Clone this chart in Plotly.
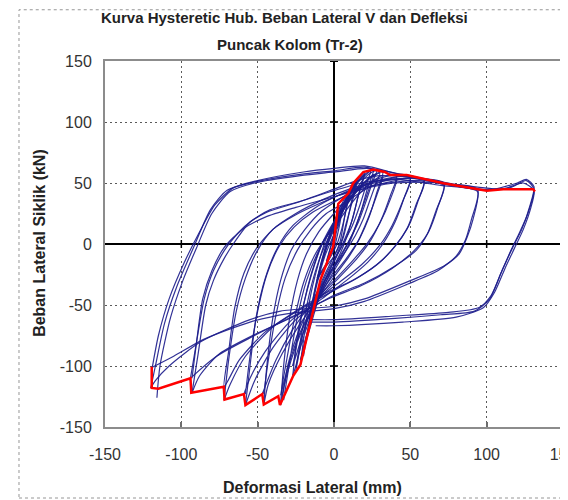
import plotly.graph_objects as go

# ---------------- data ----------------
# x: lateral deformation (mm), y: cyclic lateral load (kN)
c01_x = [0, 2, 4, 5, 4, 2, 0, -3, -5]
c01_y = [0, 12, 20, 25, 18, 6, -4, -10, -16]

c02_x = [-5, -3, 0, 3, 6, 8, 10, 8, 6, 4, 0, -5, -9, -11]
c02_y = [-16, -6, 8, 20, 30, 37, 42, 30, 15, 2, -10, -18, -25, -30]

c02b_x = [-5, -2, 1, 4, 7, 10, 8, 5, 2, -2, -7, -11]
c02b_y = [-14, -2, 12, 24, 32, 40, 28, 12, 0, -10, -20, -28]

c03_x = [-11, -8, -4, 0, 5, 10, 13, 15, 12, 9, 6, 2, -4, -10, -14, -16]
c03_y = [-30, -15, 2, 15, 30, 42, 48, 52, 38, 20, 5, -8, -22, -38, -50, -62]

c03b_x = [-11, -7, -3, 1, 6, 11, 15, 12, 8, 5, 0, -6, -12, -16]
c03b_y = [-28, -12, 4, 17, 32, 44, 50, 35, 17, 3, -10, -25, -42, -58]

c04_x = [-16, -13, -9, -5, 0, 6, 12, 17, 20, 17, 13, 9, 4, -3, -10, -16, -20, -22]
c04_y = [-62, -40, -18, 0, 18, 35, 47, 55, 59, 45, 25, 8, -8, -25, -45, -70, -88, -99]

c04b_x = [-16, -12, -8, -3, 3, 9, 15, 20, 16, 12, 7, 1, -6, -13, -19, -22]
c04b_y = [-58, -35, -14, 3, 20, 37, 50, 57, 40, 20, 4, -12, -30, -52, -80, -95]

c04c_x = [-20, -16, -11, -6, 0, 5, 10, 15, 20, 24, 21, 17, 12, 6, 0, -6, -12, -18, -21]
c04c_y = [-92, -62, -32, -10, 8, 24, 38, 50, 57, 60, 48, 32, 15, 0, -14, -30, -50, -75, -92]

c05_x = [-22, -19, -15, -10, -5, 0, 7, 14, 21, 26, 22, 18, 13, 8, 0, -8, -16, -22, -25, -27]
c05_y = [-99, -70, -40, -15, 5, 18, 35, 48, 57, 61, 46, 28, 10, -5, -22, -40, -62, -85, -100, -108]

c05b_x = [-27, -24, -19, -13, -7, 0, 8, 16, 22, 26, 22, 17, 12, 6, -2, -10, -18, -24, -27]
c05b_y = [-108, -75, -45, -18, 2, 15, 32, 45, 53, 57, 42, 24, 8, -7, -24, -42, -65, -88, -100]

c05c_x = [-25, -21, -16, -10, -4, 2, 8, 14, 20, 25, 28, 25, 21, 16, 10, 3, -5, -13, -20, -25]
c05c_y = [-104, -72, -40, -14, 4, 18, 32, 44, 54, 59, 60, 50, 35, 18, 3, -12, -28, -48, -72, -104]

c06_x = [-27, -24, -20, -15, -9, -3, 5, 13, 22, 28, 32, 28, 23, 17, 10, 0, -10, -20, -28, -33, -35]
c06_y = [-100, -80, -50, -25, -3, 12, 28, 42, 53, 58, 59, 42, 22, 5, -10, -27, -45, -68, -95, -118, -132]

c06b_x = [-35, -31, -26, -20, -13, -6, 2, 10, 18, 26, 32, 28, 22, 16, 8, -2, -12, -22, -30, -35]
c06b_y = [-124, -95, -62, -32, -10, 4, 17, 31, 43, 52, 56, 40, 20, 3, -12, -28, -47, -72, -100, -124]

c06c_x = [-33, -29, -24, -18, -11, -4, 3, 10, 17, 24, 30, 27, 23, 19, 14, 7, -2, -12, -22, -30, -34]
c06c_y = [-128, -96, -60, -30, -8, 8, 22, 35, 46, 54, 58, 48, 34, 20, 7, -7, -22, -42, -68, -98, -128]

c07_x = [-35, -33, -29, -24, -18, -10, 0, 10, 20, 30, 41, 37, 31, 24, 15, 3, -10, -22, -34, -43, -46]
c07_y = [-132, -100, -60, -30, -8, 10, 25, 38, 48, 54, 56, 40, 20, 3, -12, -28, -45, -65, -90, -115, -132]

c07b_x = [-46, -43, -38, -32, -24, -15, -5, 6, 17, 29, 41, 37, 30, 22, 12, 0, -14, -27, -38, -47]
c07b_y = [-123, -95, -58, -28, -5, 12, 25, 33, 42, 50, 54, 37, 17, 1, -14, -30, -48, -70, -95, -123]

c08_x = [-46, -44, -40, -35, -28, -19, -8, 5, 18, 32, 50, 46, 40, 32, 22, 8, -8, -25, -40, -52, -58]
c08_y = [-132, -100, -60, -30, -5, 12, 27, 38, 47, 53, 55, 38, 18, 0, -15, -30, -45, -62, -85, -112, -132]

c08b_x = [-58, -55, -50, -44, -36, -26, -14, 0, 14, 30, 50, 45, 38, 30, 18, 4, -12, -30, -45, -55, -59]
c08b_y = [-123, -92, -55, -25, -2, 14, 26, 35, 43, 49, 53, 35, 15, -1, -17, -31, -46, -65, -88, -110, -123]

c09_x = [-58, -55, -51, -45, -37, -27, -12, 3, 20, 40, 59, 55, 49, 41, 30, 15, 0, -20, -40, -58, -68, -72]
c09_y = [-132, -100, -60, -28, -3, 15, 30, 40, 48, 53, 53, 35, 15, 0, -15, -28, -38, -52, -68, -92, -115, -128]

c09b_x = [-72, -69, -65, -59, -51, -40, -25, -8, 10, 30, 59, 54, 48, 40, 28, 12, -5, -25, -45, -62, -72]
c09b_y = [-117, -88, -52, -24, -4, 12, 24, 34, 43, 49, 51, 33, 13, -2, -17, -30, -40, -55, -72, -95, -117]

c10_x = [-72, -69, -64, -58, -50, -40, -25, -8, 10, 30, 50, 72, 68, 62, 54, 40, 20, 0, -22, -50, -75, -88, -93]
c10_y = [-128, -95, -55, -28, -5, 12, 25, 36, 45, 52, 54, 50, 30, 10, -5, -18, -32, -42, -57, -73, -90, -108, -122]

c10b_x = [-93, -90, -86, -80, -72, -60, -45, -25, -5, 15, 40, 72, 67, 61, 52, 38, 18, -2, -25, -52, -77, -94]
c10b_y = [-110, -80, -45, -22, -3, 12, 22, 30, 37, 44, 50, 48, 28, 8, -6, -20, -34, -44, -58, -75, -92, -110]

c11_x = [-93, -89, -84, -79, -72, -66, -55, -42, -22, 0, 15, 30, 50, 72, 94, 91, 87, 82, 72, 50, 20, 0, -35, -55, -87, -108, -117, -120]
c11_y = [-122, -90, -50, -30, -12, 0, 18, 28, 35, 45, 52, 56, 55, 49, 45, 20, 5, -8, -18, -30, -45, -51, -55, -62, -80, -100, -112, -118]

c11b_x = [-94, -90, -85, -79, -70, -58, -44, -24, -2, 18, 40, 70, 94, 90, 86, 80, 68, 48, 20, 0, -30, -55, -85, -105, -119]
c11b_y = [-110, -80, -45, -22, -2, 15, 26, 34, 43, 50, 53, 48, 43, 20, 3, -10, -22, -33, -47, -53, -57, -64, -78, -92, -101]

c12_x = [-120, -117, -111, -103, -91, -81, -70, -55, -22, 0, 20, 35, 60, 95, 115, 126, 131, 127, 121, 116, 109, 102, 92, 70, 40, 0, -15]
c12_y = [-118, -100, -65, -35, 0, 28, 44, 50, 57, 60, 63, 58, 52, 45, 46, 52, 45, 25, 8, -5, -25, -45, -55, -58, -61, -64, -64]

c12b_x = [-119, -115, -108, -98, -88, -78, -66, -50, -20, 0, 20, 40, 70, 100, 120, 126, 131, 128, 123, 117, 110, 103, 95, 75, 40, 0, -15]
c12b_y = [-101, -75, -45, -15, 10, 32, 46, 52, 59, 62, 64, 58, 50, 44, 50, 53, 47, 30, 12, -3, -22, -42, -52, -56, -59, -62, -62]

c12c_x = [-116, -114, -107, -99, -90, -80, -68, -52, -22, 0, 22, 45, 80, 110, 124, 131, 129, 124, 118, 112, 105, 98, 80, 45, 0, -12]
c12c_y = [-126, -100, -60, -30, -3, 25, 43, 50, 56, 59, 62, 57, 49, 45, 50, 44, 30, 12, -4, -20, -40, -52, -60, -64, -67, -67]

cycles = [
    (c01_x, c01_y), (c02_x, c02_y), (c02b_x, c02b_y), (c03_x, c03_y), (c03b_x, c03b_y),
    (c04_x, c04_y), (c04b_x, c04b_y), (c04c_x, c04c_y),
    (c05_x, c05_y), (c05b_x, c05b_y), (c05c_x, c05c_y),
    (c06_x, c06_y), (c06b_x, c06b_y), (c06c_x, c06c_y),
    (c07_x, c07_y), (c07b_x, c07b_y),
    (c08_x, c08_y), (c08b_x, c08b_y), (c09_x, c09_y), (c09b_x, c09b_y),
    (c10_x, c10_y), (c10b_x, c10b_y), (c11_x, c11_y), (c11b_x, c11b_y),
    (c12_x, c12_y), (c12b_x, c12b_y), (c12c_x, c12c_y),
]

# envelope (red)
env_x = [-119.4, -119.4, -115, -94, -93.5, -72.2, -71.7, -59, -58, -47, -46, -36.5, -35.4,
         -26.7, -22, -8.8, -4.8, -0.5, 2.8, 9.4, 12.6, 19.2, 25.7, 33.3, 36.7, 47.6, 71.6,
         100, 110.9, 130.5, 131.6]
env_y = [-100.7, -118, -118.7, -110, -122, -117, -127.5, -123, -132, -123, -131.6, -124.7, -132,
         -108, -99, -29, -16, -2, 33, 41.5, 49.8, 59, 61, 59, 56.5, 56.5, 49.8,
         43.7, 44.8, 44.8, 43]

tick_vals = [-150, -100, -50, 0, 50, 100, 150]
tick_text = ["-150", "-100", "-50", "0", "50", "100", "150"]
axis_ticks_on_zero = [-100, -50, 50, 100]

title_line1 = "Kurva Hysteretic Hub. Beban Lateral V dan Defleksi"
title_line2 = "Puncak Kolom (Tr-2)"
x_title = "Deformasi Lateral (mm)"
y_title = "Beban Lateral Siklik (kN)"

# ---------------- figure ----------------
FONT = "Liberation Sans, Arial, sans-serif"
fig = go.Figure()

for cx, cy in cycles:
    fig.add_trace(go.Scatter(
        x=cx, y=cy, mode="lines",
        line=dict(color="rgb(28,28,140)", width=1.2, shape="spline", smoothing=0.7),
        opacity=0.9, hoverinfo="skip", showlegend=False))

fig.add_trace(go.Scatter(
    x=env_x, y=env_y, mode="lines",
    line=dict(color="rgb(255,0,0)", width=2.5),
    hoverinfo="skip", showlegend=False))

shapes = []
# small tick marks across the zero axes
for v in axis_ticks_on_zero:
    shapes.append(dict(type="line", xref="x", yref="y", x0=v, x1=v,
                       ysizemode="pixel", yanchor=0, y0=-4, y1=4,
                       line=dict(color="black", width=1.5), layer="above"))
    shapes.append(dict(type="line", xref="x", yref="y", y0=v, y1=v,
                       xsizemode="pixel", xanchor=0, x0=-4, x1=4,
                       line=dict(color="black", width=1.5), layer="above"))
# caps of the zero axes
shapes.append(dict(type="line", xref="x", yref="y", x0=0, x1=0,
                   ysizemode="pixel", yanchor=-150, y0=-6, y1=0,
                   line=dict(color="black", width=2), layer="above"))
shapes.append(dict(type="line", xref="x", yref="y", y0=0, y1=0,
                   xsizemode="pixel", xanchor=-150, x0=-5, x1=0,
                   line=dict(color="black", width=2), layer="above"))
shapes.append(dict(type="line", xref="x", yref="y", x0=0, x1=0,
                   ysizemode="pixel", yanchor=150, y0=0, y1=3,
                   line=dict(color="black", width=2), layer="above"))
shapes.append(dict(type="line", xref="x", yref="y", y0=150, y1=150,
                   xsizemode="pixel", xanchor=0, x0=-4, x1=4,
                   line=dict(color="black", width=2), layer="above"))
# outer dashed frame
shapes.append(dict(type="rect", xref="paper", yref="paper",
                   x0=-0.1878, x1=1.03, y0=-0.194, y1=1.14,
                   line=dict(color="rgb(150,150,150)", width=1, dash="dot"),
                   layer="below"))
fig.update_layout(shapes=shapes)

TITLE_FONT = dict(family=FONT, size=15, color="#222222")
AXT_FONT = dict(family=FONT, size=16, color="#222222")

fig.update_layout(
    width=560, height=492,
    margin=dict(l=97, r=5, t=53, b=73, autoexpand=False),
    paper_bgcolor="white", plot_bgcolor="white",
    font=dict(family=FONT, size=16, color="#333333"),
    showlegend=False,
    annotations=[
        dict(text="<b>" + title_line1 + "</b>", xref="paper", yref="paper",
             x=0.391, y=1.1175, showarrow=False, xanchor="center", yanchor="middle",
             font=TITLE_FONT),
        dict(text="<b>" + title_line2 + "</b>", xref="paper", yref="paper",
             x=0.404, y=1.046, showarrow=False, xanchor="center", yanchor="middle",
             font=TITLE_FONT),
        dict(text="<b>" + x_title + "</b>", xref="paper", yref="paper",
             x=0.452, y=-0.164, showarrow=False, xanchor="center", yanchor="middle",
             font=AXT_FONT),
        dict(text="<b>" + y_title + "</b>", xref="paper", yref="paper",
             x=-0.142, y=0.503, showarrow=False, xanchor="center", yanchor="middle",
             textangle=-90, font=AXT_FONT),
    ],
)

grid_common = dict(
    showgrid=True, gridcolor="rgb(90,90,90)", gridwidth=1.2, griddash="2px,3px",
    zeroline=True, zerolinecolor="black", zerolinewidth=2,
    showline=True, linecolor="rgb(140,140,140)", linewidth=2, mirror=True,
    tickmode="array", tickvals=tick_vals, ticktext=tick_text,
    range=[-150, 150], fixedrange=True, ticklabeloverflow="allow", automargin=False,
)
fig.update_xaxes(**grid_common, ticks="inside", ticklen=5, tickwidth=1.5,
                 tickcolor="rgb(110,110,110)", ticklabelstandoff=12)
fig.update_yaxes(**grid_common, ticks="", ticklabelstandoff=8)

fig.write_html("out.html")
